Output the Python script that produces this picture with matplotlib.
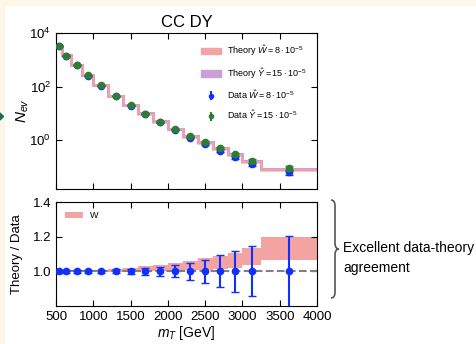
import matplotlib

matplotlib.use("Agg")
import matplotlib.pyplot as plt
import numpy as np
from matplotlib.patches import Patch, PathPatch, Polygon, Rectangle
from matplotlib.path import Path

# bins in transverse mass [GeV]
MT_EDGES = [500, 580, 700, 850, 1000, 1200, 1400, 1600, 1800, 2000, 2200, 2400, 2600, 2800, 3000, 3250, 4000]

# upper panel: event counts
DATA_Y = [3300, 1440, 650, 260, 110, 45, 20, 9.7, 4.9, 2.6, 1.4, 0.87, 0.50, 0.30, 0.17, 0.092]
DATA_W = [3250, 1420, 640, 255, 107, 44, 19.5, 9.3, 4.6, 2.4, 1.25, 0.72, 0.41, 0.23, 0.125, 0.065]
THEORY_W = [3300, 1450, 650, 262, 110, 45, 20, 9.6, 4.8, 2.5, 1.35, 0.80, 0.46, 0.27, 0.15, 0.078]
THEORY_Y = [3300, 1450, 655, 265, 111, 46, 20.5, 9.9, 5.0, 2.65, 1.45, 0.88, 0.51, 0.31, 0.17, 0.086]
REL_ERR = [0.01, 0.01, 0.01, 0.01, 0.01, 0.012, 0.015, 0.02, 0.025, 0.035, 0.048, 0.065, 0.092, 0.12, 0.144, 0.205]

# lower panel: theory / data
RATIO_LO = [0.995, 0.995, 0.996, 0.996, 0.997, 0.998, 1.0, 1.0, 1.003, 1.005, 1.008, 1.01, 1.012, 1.017, 1.038, 1.066]
RATIO_HI = [1.005, 1.005, 1.007, 1.009, 1.01, 1.014, 1.02, 1.028, 1.038, 1.05, 1.06, 1.075, 1.09, 1.104, 1.135, 1.197]
DATA_RATIO = [1.0] * 16

X_TICKS = [500, 1000, 1500, 2000, 2500, 3000, 3500, 4000]

SANS = ["Liberation Sans", "DejaVu Sans"]
PINK = "#f4a3a3"
PURPLE = "#c9a0d8"
BLUE = "#1030ff"
GREEN = "#2e7d32"

plt.rcParams["font.family"] = SANS
plt.rcParams["mathtext.fontset"] = "custom"
plt.rcParams["mathtext.rm"] = "Liberation Sans"
plt.rcParams["mathtext.it"] = "Liberation Sans:italic"
plt.rcParams["mathtext.bf"] = "Liberation Sans:bold"
for axis in ("xtick", "ytick"):
    plt.rcParams[f"{axis}.direction"] = "in"
    plt.rcParams[f"{axis}.major.size"] = 4
    plt.rcParams[f"{axis}.labelsize"] = 9.5
plt.rcParams["xtick.top"] = True
plt.rcParams["ytick.right"] = True

edges = np.array(MT_EDGES, dtype=float)
centers = 0.5 * (edges[:-1] + edges[1:])

fig = plt.figure(figsize=(4.77, 3.44), dpi=100)
W, H = 477, 344

# slide background strips and marker arrow
fig.patches.append(Rectangle((0, 1 - 5 / H), 1, 5 / H, transform=fig.transFigure, color="#fdf7e8", zorder=0))
fig.patches.append(Rectangle((0, 0), 4 / W, 1, transform=fig.transFigure, color="#fdf7e8", zorder=0))
fig.patches.append(Polygon([(0, 1 - 113 / H), (3.5 / W, 1 - 116.5 / H), (0, 1 - 120 / H)],
                           closed=True, transform=fig.transFigure, color="#1d6b5e", zorder=1))

ax_top = fig.add_axes([56 / W, 1 - 189 / H, 261 / W, 156 / H])
ax_bot = fig.add_axes([56 / W, 1 - 306 / H, 261 / W, 104 / H])

# --- upper panel ---
ax_top.stairs(THEORY_Y, edges, baseline=None, color=PURPLE, lw=2.2, zorder=2)
ax_top.stairs(THEORY_W, edges, baseline=None, color=PINK, lw=1.8, alpha=0.85, zorder=2)
ax_top.errorbar(centers, DATA_W, yerr=np.array(DATA_W) * np.array(REL_ERR), fmt="o", color=BLUE,
                ms=4.5, capsize=3, lw=1.5, zorder=3)
ax_top.errorbar(centers, DATA_Y, yerr=np.array(DATA_Y) * np.array(REL_ERR), fmt="o", color=GREEN,
                ms=4.5, capsize=3, lw=1.5, zorder=4)
ax_top.set_yscale("log")
ax_top.set_ylim(0.015, 1e4)
ax_top.set_yticks([1, 1e2, 1e4])
ax_top.yaxis.set_minor_locator(matplotlib.ticker.NullLocator())
ax_top.set_xlim(500, 4000)
ax_top.set_xticks(X_TICKS)
ax_top.tick_params(labelbottom=False)
ax_top.set_ylabel("$N_{ev}$", fontsize=11)
ax_top.yaxis.set_label_coords(-0.095, 0.5)
ax_top.set_title("CC DY", fontsize=12, pad=4)

leg_handles = [
    Patch(color=PINK, label=r"Theory $\hat{W} = 8\cdot10^{-5}$"),
    Patch(color=PURPLE, label=r"Theory $\hat{Y} = 15\cdot10^{-5}$"),
    ax_top.errorbar([], [], yerr=[], fmt="o", color=BLUE, ms=3, capsize=2, label=r"Data $\hat{W} = 8\cdot10^{-5}$"),
    ax_top.errorbar([], [], yerr=[], fmt="o", color=GREEN, ms=3, capsize=2, label=r"Data $\hat{Y} = 15\cdot10^{-5}$"),
]
ax_top.legend(handles=leg_handles, loc="upper right", frameon=False, fontsize=6.5,
              labelspacing=0.85, handlelength=2.3, handletextpad=0.6, borderaxespad=0.8)

# --- lower panel ---
ax_bot.stairs(RATIO_HI, edges, baseline=RATIO_LO, fill=True, color=PINK, label="W", zorder=1)
ax_bot.axhline(1.0, color="#808080", ls="--", lw=1.5, zorder=2)
ax_bot.errorbar(centers, DATA_RATIO, yerr=np.array(REL_ERR), fmt="o", color=BLUE,
                ms=4.5, capsize=3, lw=1.5, zorder=3)
ax_bot.set_xlim(500, 4000)
ax_bot.set_ylim(0.8, 1.4)
ax_bot.set_xticks(X_TICKS)
ax_bot.set_yticks([1.0, 1.2, 1.4])
ax_bot.set_ylabel("Theory / Data", fontsize=9.5)
ax_bot.yaxis.set_label_coords(-0.125, 0.5)
ax_bot.set_xlabel("$m_T$ [GeV]", fontsize=10, labelpad=1)
ax_bot.legend(loc="upper left", frameon=False, fontsize=6.5, handlelength=2.0, borderaxespad=0.6)


# brace and annotation on the right
def px(x, y):
    return (x / W, 1 - y / H)


verts = [px(331, 200), px(335, 200), px(335, 206), px(335, 243), px(335, 249), px(339, 249),
         px(335, 249), px(335, 255), px(335, 292), px(335, 298), px(331, 298)]
codes = [Path.MOVETO, Path.CURVE3, Path.CURVE3, Path.LINETO, Path.CURVE3, Path.CURVE3,
         Path.CURVE3, Path.CURVE3, Path.LINETO, Path.CURVE3, Path.CURVE3]
fig.patches.append(PathPatch(Path(verts, codes), transform=fig.transFigure, fill=False,
                             edgecolor="#555555", lw=1.2))
fig.text(343 / W, 1 - 258 / H, "Excellent data-theory\nagreement", fontsize=10,
         va="center", ha="left", linespacing=1.5)

fig.savefig("out.png", dpi=100)
